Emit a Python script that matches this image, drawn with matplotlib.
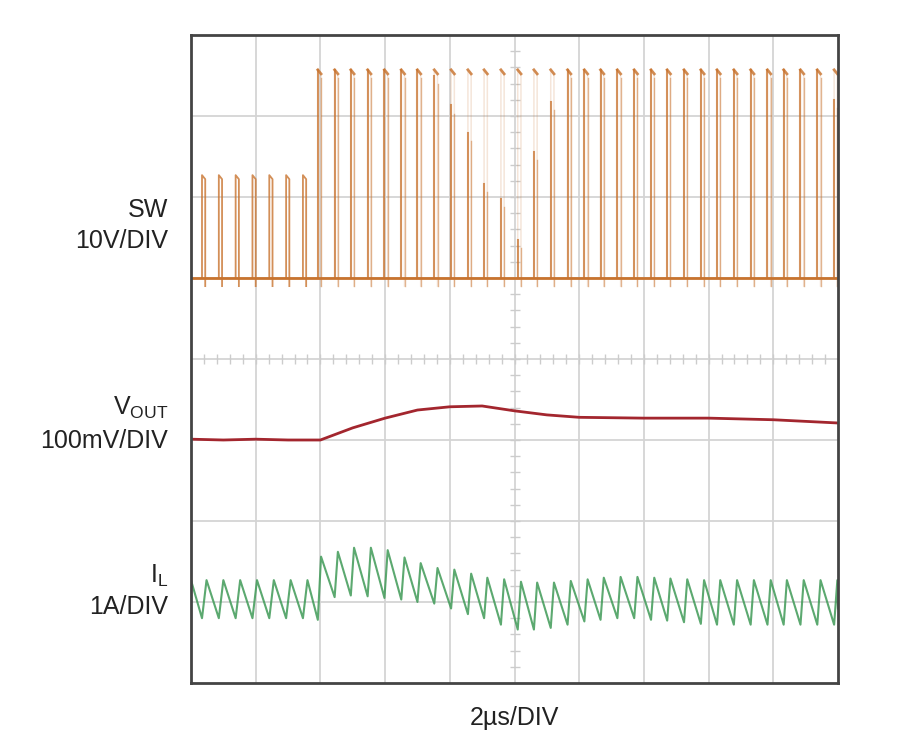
import matplotlib
matplotlib.use("Agg")
import matplotlib.pyplot as plt
import numpy as np

# ---- data (divisions) ----
sw_base = 5.0
sw_pre_x = [0.17, 0.43, 0.69, 0.95, 1.21, 1.47, 1.73]
sw_pre_top = 6.27
sw_post_x = [1.96, 2.22, 2.47, 2.73, 2.99, 3.25, 3.50, 3.76, 4.02, 4.28, 4.53, 4.79,
             5.05, 5.30, 5.56, 5.82, 6.08, 6.33, 6.59, 6.85, 7.11, 7.36, 7.62, 7.88,
             8.13, 8.39, 8.65, 8.91, 9.16, 9.42, 9.68, 9.94]
sw_post_top = 7.57
sw_post_solid = [7.57, 7.57, 7.57, 7.57, 7.57, 7.57, 7.57, 7.50, 7.13, 6.79, 6.16, 5.98,
                 5.47, 6.56, 7.17, 7.57, 7.57, 7.57, 7.57, 7.57, 7.57, 7.57, 7.57, 7.57,
                 7.57, 7.57, 7.57, 7.57, 7.57, 7.57, 7.57, 7.20]

vout_x = [0, 0.5, 1.0, 1.5, 2.0, 2.5, 3.0, 3.5, 4.0, 4.5, 5.0, 5.5, 6.0, 7.0, 8.0, 9.0, 10.0]
vout_y = [3.01, 3.00, 3.01, 3.00, 3.00, 3.15, 3.27, 3.37, 3.41, 3.42, 3.36, 3.31, 3.28, 3.27, 3.27, 3.25, 3.21]

il_pre_peak = 1.27
il_pre_trough = 0.80
il_post_peak = [1.56, 1.62, 1.67, 1.67, 1.64, 1.55, 1.48, 1.42, 1.40, 1.35, 1.30, 1.28,
                1.25, 1.24, 1.24, 1.26, 1.28, 1.30, 1.31, 1.31, 1.30, 1.29, 1.28, 1.27,
                1.27, 1.27, 1.27, 1.27, 1.27, 1.27, 1.27, 1.27]
il_post_trough = [0.78, 1.06, 1.08, 1.07, 1.05, 1.03, 1.00, 0.98, 0.92, 0.85, 0.80, 0.72,
                  0.66, 0.66, 0.68, 0.72, 0.76, 0.78, 0.80, 0.80, 0.78, 0.77, 0.75, 0.73,
                  0.72, 0.72, 0.72, 0.72, 0.72, 0.72, 0.72, 0.72]

SW_C = "#C8732E"
VO_C = "#A3262E"
IL_C = "#3F9A57"

fig = plt.figure(figsize=(9, 7.54), dpi=100)
ax = fig.add_axes([191/900, 71/754, 647/900, 648/754])
ax.set_xlim(0, 10)
ax.set_ylim(0, 8)
for i in range(1, 10):
    ax.axvline(i, color="#d4d4d4", lw=1.3, zorder=0)
for j in range(1, 8):
    ax.axhline(j, color="#d4d4d4", lw=1.3, zorder=0)
mt = np.arange(0.2, 10, 0.2)
ax.plot(mt, np.full_like(mt, 4), linestyle="none", marker="|", ms=7, color="#cccccc", zorder=0)
mt2 = np.arange(0.2, 8, 0.2)
ax.plot(np.full_like(mt2, 5), mt2, linestyle="none", marker="_", ms=7, color="#cccccc", zorder=0)

w = 0.05
for x in sw_pre_x:
    ax.plot([x, x, x + w, x + w], [sw_base, sw_pre_top, sw_pre_top - 0.05, sw_base - 0.1],
            color=SW_C, lw=1.3, alpha=0.8)
for x, s in zip(sw_post_x, sw_post_solid):
    ax.plot([x, x, x + w, x + w], [sw_base, sw_post_top, sw_post_top - 0.05, sw_base - 0.1],
            color=SW_C, lw=1.1, alpha=0.18)
    ax.plot([x, x], [sw_base, s], color=SW_C, lw=1.5, alpha=0.75)
    ax.plot([x, x + w], [sw_post_top, sw_post_top - 0.05], color=SW_C, lw=2, alpha=0.8)
    ax.plot([x + w, x + w], [sw_base - 0.1, s - 0.1], color=SW_C, lw=1.0, alpha=0.5)
ax.plot([0, 10], [sw_base, sw_base], color=SW_C, lw=2)

ax.plot(vout_x, vout_y, color=VO_C, lw=2)

xs = [0.0]
ys = [il_pre_peak]
for x in sw_pre_x:
    xs += [x, x + 0.07]
    ys += [il_pre_trough, il_pre_peak]
for x, p, t in zip(sw_post_x, il_post_peak, il_post_trough):
    xs += [x, x + 0.05]
    ys += [t, p]
xs.append(10.0)
ys.append(il_post_trough[-1] + 0.2)
ax.plot(xs, ys, color=IL_C, lw=1.5, alpha=0.85)

ax.set_xticks([]); ax.set_yticks([])
for sp in ax.spines.values():
    sp.set_linewidth(2); sp.set_color("#444444")

fam = ["Liberation Sans", "DejaVu Sans"]
kw = dict(ha="right", va="center", fontsize=18, family=fam, color="#222222")
def fy(py): return 1 - py/754
fig.text(168/900, fy(210), "SW", **kw)
fig.text(168/900, fy(241), "10V/DIV", **kw)
fig.text(168/900, fy(408), r"V$_{\mathregular{OUT}}$", **kw)
fig.text(168/900, fy(441), "100mV/DIV", **kw)
fig.text(168/900, fy(576), r"I$_{\mathregular{L}}$", **kw)
fig.text(168/900, fy(607), "1A/DIV", **kw)
fig.text(514/900, fy(718), "2µs/DIV", ha="center", va="center", fontsize=18, family=fam, color="#222222")
fig.savefig("out.png")
